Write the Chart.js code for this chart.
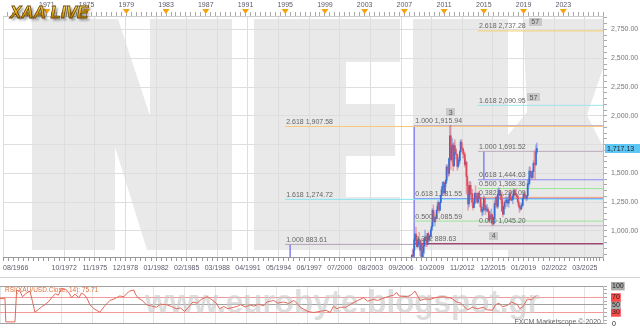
<!DOCTYPE html>
<html>
<head>
<meta charset="utf-8">
<script src="https://cdn.jsdelivr.net/npm/chart.js@4.4.1/dist/chart.umd.min.js"></script>
<style>
html, body { margin: 0; padding: 0; background: #fff; }
#wrap { width: 640px; height: 333px; overflow: hidden; }
canvas { display: block; }
</style>
</head>
<body>
<div id="wrap">
<canvas id="main" width="640" height="277"></canvas>
<canvas id="rsi" width="640" height="56"></canvas>
</div>
<script>
// ---- data ----
const firstMonth = '2007-10';
const firstOpen = 743;
const goldClose = [
  789, 783, 834,
  923, 972, 916, 864, 886, 928, 912, 833, 884, 718, 816, 869,
  927, 942, 916, 883, 978, 926, 954, 955, 1008, 1040, 1180, 1096,
  1081, 1118, 1113, 1180, 1213, 1244, 1181, 1246, 1308, 1357, 1386, 1421,
  1332, 1410, 1439, 1556, 1536, 1500, 1628, 1826, 1620, 1722, 1746, 1565,
  1740, 1710, 1668, 1664, 1562, 1604, 1614, 1690, 1772, 1719, 1712, 1675,
  1663, 1578, 1596, 1472, 1393, 1234, 1313, 1396, 1327, 1323, 1250, 1202,
  1240, 1326, 1284, 1296, 1250, 1327, 1282, 1287, 1210, 1172, 1183, 1184,
  1283, 1213, 1183, 1183, 1190, 1172, 1095, 1132, 1115, 1142, 1065, 1061,
  1118, 1238, 1233, 1292, 1215, 1321, 1351, 1309, 1316, 1273, 1173, 1146,
  1211, 1249, 1248, 1268, 1268, 1242, 1269, 1322, 1280, 1270, 1275, 1303,
  1345, 1318, 1325, 1315, 1299, 1253, 1224, 1201, 1192, 1215, 1222, 1282,
  1321, 1313, 1292, 1284, 1305, 1409, 1413, 1520, 1472, 1513, 1464, 1517,
  1589, 1585, 1577, 1686, 1717.13
];
const goldHigh = [
  795, 845, 838,
  931, 976, 1033, 945, 940, 943, 988, 917, 910, 935, 826, 880,
  929, 1007, 963, 930, 980, 992, 960, 966, 1025, 1070, 1195, 1227,
  1162, 1128, 1135, 1183, 1250, 1265, 1246, 1253, 1313, 1388, 1424, 1431,
  1424, 1411, 1448, 1575, 1577, 1553, 1632, 1913, 1915.94, 1732, 1803, 1764,
  1764, 1791, 1720, 1677, 1666, 1640, 1630, 1695, 1790, 1796, 1755, 1723,
  1695, 1682, 1616, 1604, 1487, 1424, 1347, 1433, 1424, 1361, 1361, 1267,
  1280, 1332, 1392, 1331, 1315, 1332, 1345, 1322, 1287, 1255, 1205, 1239,
  1307, 1293, 1219, 1224, 1232, 1205, 1174, 1170, 1157, 1191, 1143, 1088,
  1126, 1263, 1283, 1304, 1303, 1362, 1377, 1367, 1352, 1318, 1338, 1180,
  1220, 1264, 1262, 1296, 1273, 1296, 1270, 1331, 1357, 1306, 1299, 1307,
  1366, 1361, 1356, 1366, 1318, 1309, 1266, 1236, 1214, 1243, 1237, 1284,
  1326, 1347, 1324, 1310, 1306, 1439, 1453, 1555, 1557, 1517, 1516, 1535,
  1611, 1689, 1704, 1747, 1765
];
const goldLow = [
  725, 775, 780,
  835, 890, 913, 862, 852, 862, 911, 786, 740, 681, 705, 752,
  802, 918, 866, 865, 882, 913, 908, 932, 950, 1003, 1040, 1075,
  1075, 1045, 1087, 1114, 1165, 1195, 1157, 1177, 1243, 1308, 1332, 1360,
  1308, 1323, 1383, 1420, 1462, 1477, 1478, 1603, 1534, 1604, 1670, 1523,
  1563, 1688, 1627, 1614, 1527, 1547, 1564, 1584, 1686, 1697, 1672, 1636,
  1626, 1555, 1566, 1321, 1338, 1180, 1208, 1271, 1292, 1251, 1221, 1182,
  1202, 1238, 1277, 1268, 1242, 1240, 1281, 1281, 1206, 1160, 1131, 1142,
  1167, 1197, 1142, 1169, 1170, 1162, 1077, 1080, 1098, 1112, 1052, 1045.2,
  1061, 1107, 1208, 1207, 1199, 1199, 1310, 1301, 1302, 1241, 1171, 1123,
  1146, 1191, 1194, 1243, 1214, 1236, 1205, 1265, 1274, 1260, 1264, 1236,
  1302, 1307, 1303, 1309, 1281, 1245, 1211, 1160, 1180, 1182, 1196, 1221,
  1275, 1310, 1281, 1266, 1266, 1311, 1382, 1400, 1459, 1459, 1445, 1459,
  1517, 1548, 1451, 1567, 1670
];

// Fibonacci levels drawn on the chart
const fibLabels = ['2.618 2,737.28', '1.618 2,090.95', '2.618 1,907.58', '1.000 1,915.94',
  '1.000 1,691.52', '0.618 1,444.63', '0.500 1,368.36', '0.382 1,292.09', '1.618 1,274.72',
  '0.618 1,281.55', '0.500 1,085.59', '0.000 1,045.20', '1.000 883.61', '0.382 889.63'];
const fibPrices = [2737.28, 2090.95, 1907.58, 1915.94, 1691.52, 1444.63, 1368.36, 1292.09,
  1274.72, 1281.55, 1085.59, 1045.20, 883.61, 889.63];
const fibStarts = ['2014-06', '2014-06', '1995-01', '2008-01', '2014-06', '2014-06', '2014-06',
  '2014-06', '1995-01', '2008-01', '2008-01', '2014-06', '1995-01', '2008-01'];
const fibColors = ['#f6cf6a', '#9fe3ee', '#f7c77a', '#c4b6cc', '#bcaabc', '#8a8af2', '#9be59b',
  '#f2a27e', '#86e6ee', '#8c8cf0', '#9be59b', '#c8b8c8', '#b0a0b8', '#a8385e'];

// vertical legs of the fib drawings
const legDates = ['1995-07', '2008-01', '2015-01'];
const legFrom = [883.61, 1915.94, 1691.52];
const legTo = [774, 774, 1444.63];

// wave tags
const tagTexts = ['57', '57', '3', '4'];
const tagDates = ['2020-03', '2020-01', '2011-09', '2016-01'];
const tagPrices = [2815, 2160, 2030, 960];

const bottomLabels = ['08/1966', '10/1972', '11/1975', '12/1978', '01/1982', '02/1985', '03/1988',
  '04/1991', '05/1994', '06/1997', '07/2000', '08/2003', '09/2006', '10/2009', '11/2012',
  '12/2015', '01/2019', '02/2022', '03/2025'];
const topYears = [1971, 1975, 1979, 1983, 1987, 1991, 1995, 1999, 2003, 2007, 2011, 2015, 2019, 2023];
const priceLabels = [1000, 1250, 1500, 2000, 2250, 2500, 2750];

const rsiDates = ['1966-08', '1967-02', '1967-03', '1968-02', '1968-04', '1968-08', '1968-11', '1969-03',
  '1969-08', '1969-11', '1970-02', '1970-06', '1970-10', '1971-02', '1971-06', '1971-11', '1972-03',
  '1972-06', '1972-10', '1973-04', '1973-07', '1973-10', '1974-02', '1974-07', '1974-10', '1975-02',
  '1975-05', '1975-08', '1976-01', '1976-08', '1977-01', '1977-08', '1978-01', '1978-08', '1979-01',
  '1979-04', '1979-08', '1980-01', '1980-03', '1980-06', '1980-11', '1981-04', '1981-09', '1982-04',
  '1982-09', '1983-04', '1983-10', '1984-04', '1984-09', '1985-02', '1985-07', '1985-12', '1986-05',
  '1986-10', '1987-05', '1987-08', '1987-12', '1988-04', '1988-08', '1989-01', '1989-06', '1990-01',
  '1990-05', '1990-09', '1991-03', '1991-09', '1992-01', '1992-07', '1993-01', '1993-05', '1994-01',
  '1994-06', '1995-01', '1995-07', '1996-01', '1996-05', '1996-09', '1997-06', '1998-01', '1998-09',
  '1999-04', '1999-09', '2000-01', '2000-05', '2000-09', '2001-04', '2001-09', '2002-06', '2003-01',
  '2003-06', '2004-01', '2004-06', '2005-01', '2005-06', '2006-01', '2006-05', '2006-08', '2007-06',
  '2007-11', '2008-03', '2008-09', '2009-03', '2009-09', '2010-04', '2011-01', '2011-09', '2011-12',
  '2012-05', '2012-10', '2013-06', '2013-12', '2014-06', '2015-01', '2015-06', '2015-12', '2016-04',
  '2016-08', '2016-12', '2017-06', '2017-11', '2018-06', '2018-09', '2019-01', '2019-06', '2019-11',
  '2020-02', '2020-05'];
const rsiValues = [67, 67, 5, 5, 89, 87, 72, 80,
  87, 60, 31, 38, 45, 51, 58, 72, 80,
  76, 94, 90, 82, 69, 79, 69, 82, 76,
  66, 51, 40, 31, 45, 62, 66, 74, 72,
  80, 87, 90, 78, 69, 62, 51, 48, 44,
  52, 51, 46, 40, 42, 33, 45, 58, 55,
  65, 72, 68, 62, 55, 40, 46, 40, 44,
  46, 51, 45, 50, 47, 52, 48, 58, 62,
  55, 58, 54, 62, 55, 44, 33, 30, 33,
  36, 30, 47, 40, 44, 44, 51, 62, 69,
  60, 65, 62, 68, 72, 76, 83, 74, 72,
  78, 87, 62, 66, 65, 70, 72, 69, 66,
  58, 55, 37, 44, 40, 44, 37, 36, 51,
  55, 45, 49, 58, 51, 40, 46, 66, 64,
  70, 75.71];
const rsiLevels = [0, 30, 50, 70, 100];

// ---- helpers ----
const FONT = 'Liberation Sans, Arial, sans-serif';
function ym(s) { const [y, m] = s.split('-').map(Number); return y + (m - 1) / 12; }
function my(s) { const [m, y] = s.split('/').map(Number); return y + (m - 1) / 12; }
const X_MIN = my(bottomLabels[0]);
const X_MAX = 2027.0;
const Y_MIN = 774, Y_MAX = 2867;
const fmt = v => v.toLocaleString('en-US', { minimumFractionDigits: 2, maximumFractionDigits: 2 });

// bottom axis ticks: labelled ones plus small ones in between
const bottomTicks = [];
bottomLabels.forEach((l, i) => {
  const v = my(l);
  bottomTicks.push({ value: v, lbl: l });
  const next = i < bottomLabels.length - 1 ? my(bottomLabels[i + 1]) : X_MAX;
  const step = i === 0 ? (my(bottomLabels[1]) - v) / 12 : (next - v) / 6;
  for (let t = v + step; t < next - step / 2; t += step) bottomTicks.push({ value: t, lbl: '' });
});
bottomTicks.push({ value: X_MAX, lbl: '' });

const topTicks = [];
for (let t = 1967; t <= X_MAX; t += 0.5) topTicks.push({ value: t, lbl: topYears.includes(t) ? String(t) : '' });

const priceTicks = [];
for (let p = 800; p <= 2850; p += 50) priceTicks.push({ value: p });

// candles
const m0 = ym(firstMonth);
const candleX = goldClose.map((c, i) => m0 + i / 12);
const candleOpen = goldClose.map((c, i) => i === 0 ? firstOpen : goldClose[i - 1]);
const isUp = goldClose.map((c, i) => c >= candleOpen[i]);

// ---- plugins ----
function poly(c, pts) {
  c.beginPath();
  pts.forEach((p, i) => i ? c.lineTo(p[0], p[1]) : c.moveTo(p[0], p[1]));
  c.closePath();
  c.fill();
}

const watermark = {
  id: 'watermark',
  beforeDraw(chart) {
    const c = chart.ctx, a = chart.chartArea;
    c.save();
    c.beginPath();
    c.rect(a.left, a.top, a.right - a.left, a.bottom - a.top);
    c.clip();
    c.fillStyle = '#e9e9e9';
    poly(c, [[32, 19], [118, 19], [150, 116], [150, 19], [232, 19], [232, 250], [147, 250], [115, 147], [115, 250], [32, 250]]);
    poly(c, [[254, 19], [400, 19], [400, 62], [346, 62], [346, 104], [395, 104], [395, 156], [346, 156], [346, 197], [400, 197], [400, 250], [254, 250]]);
    poly(c, [[413, 19], [508, 19], [508, 250], [413, 250]]);
    poly(c, [[523, 19], [620, 19], [587, 115], [660, 260], [508, 260], [508, 135], [527, 112]]);
    c.restore();
  }
};

const annotations = {
  id: 'annotations',
  afterDatasetsDraw(chart) {
    const c = chart.ctx, sx = chart.scales.x, sy = chart.scales.y;
    c.save();
    c.font = '7px ' + FONT;
    c.fillStyle = '#666';
    c.textBaseline = 'bottom';
    fibLabels.forEach((l, i) => {
      c.fillText(l, sx.getPixelForValue(ym(fibStarts[i])) + 1, sy.getPixelForValue(fibPrices[i]) - 1);
    });
    c.textAlign = 'center';
    c.textBaseline = 'middle';
    tagTexts.forEach((t, i) => {
      const px = sx.getPixelForValue(ym(tagDates[i])), py = sy.getPixelForValue(tagPrices[i]);
      const w = c.measureText(t).width + 5;
      c.fillStyle = '#c9c9c9';
      c.fillRect(Math.round(px - w / 2), Math.round(py - 4), Math.round(w), 8);
      c.fillStyle = '#555';
      c.fillText(t, px, py + 0.5);
    });
    c.restore();
  },
  afterDraw(chart) {
    const c = chart.ctx, sy = chart.scales.y, st = chart.scales.xTop;
    c.save();
    // last price box
    const last = goldClose[goldClose.length - 1];
    const py = sy.getPixelForValue(last);
    c.fillStyle = '#5cc6f5';
    c.fillRect(605, Math.round(py - 4.5), 35, 9);
    c.fillStyle = '#222';
    c.font = '7px ' + FONT;
    c.textBaseline = 'middle';
    c.fillText(fmt(last), 607, py + 0.5);
    // year markers on the top axis
    c.fillStyle = '#f5a20f';
    topYears.forEach(yr => {
      const px = st.getPixelForValue(yr);
      c.beginPath();
      c.moveTo(px - 3.5, 9); c.lineTo(px + 3.5, 9); c.lineTo(px, 14); c.closePath();
      c.fill();
    });
    // logo
    c.font = 'italic bold 17px ' + FONT;
    c.textBaseline = 'alphabetic';
    c.shadowColor = 'rgba(0,0,0,0.55)';
    c.shadowBlur = 3;
    c.shadowOffsetX = 2;
    c.shadowOffsetY = 2;
    const g = c.createLinearGradient(0, 4, 0, 19);
    g.addColorStop(0, '#fff2a0');
    g.addColorStop(0.5, '#f2b418');
    g.addColorStop(1, '#b07000');
    c.fillStyle = g;
    c.fillText('XAA LIVE', 10, 18);
    c.shadowColor = 'transparent';
    c.lineWidth = 0.8;
    c.strokeStyle = '#6a4a00';
    c.strokeText('XAA LIVE', 10, 18);
    c.restore();
  }
};

// ---- main chart ----
const tickFont = { family: FONT, size: 7 };
const datasets = [
  {
    type: 'bar', label: 'wick', order: 0, grouped: false, barThickness: 1,
    data: candleX.map((x, i) => ({ x, y: [goldLow[i], goldHigh[i]] })),
    backgroundColor: isUp.map(u => u ? 'rgba(70,120,220,0.45)' : 'rgba(232,100,115,0.5)')
  },
  {
    type: 'bar', label: 'body', order: 0, grouped: false, barThickness: 1,
    data: candleX.map((x, i) => ({ x, y: [candleOpen[i], goldClose[i]] })),
    backgroundColor: isUp.map(u => u ? '#1a5fd6' : '#d8283c')
  }
];
fibPrices.forEach((p, i) => datasets.push({
  type: 'line', order: 1, borderColor: fibColors[i], borderWidth: i === 13 ? 1.5 : 1,
  pointRadius: 0, data: [{ x: ym(fibStarts[i]), y: p }, { x: X_MAX, y: p }]
}));
legDates.forEach((d, i) => datasets.push({
  type: 'line', order: 1, borderColor: '#8c8cf0', borderWidth: 1, pointRadius: 0,
  data: [{ x: ym(d), y: legFrom[i] }, { x: ym(d), y: legTo[i] }]
}));

new Chart(document.getElementById('main'), {
  type: 'line',
  data: { datasets },
  options: {
    responsive: false, animation: false, events: [],
    layout: { padding: 0 },
    plugins: { legend: { display: false }, tooltip: { enabled: false } },
    scales: {
      x: {
        type: 'linear', position: 'bottom', min: X_MIN, max: X_MAX, offset: false,
        afterBuildTicks: s => { s.ticks = bottomTicks.map(t => ({ ...t })); },
        afterFit: s => { s.height = 20; },
        grid: { offset: false, color: ctx => ctx.tick && ctx.tick.lbl ? '#dedede' : 'transparent', tickColor: '#999', tickLength: 4 },
        border: { color: '#999' },
        ticks: { autoSkip: false, maxRotation: 0, align: 'inner', padding: 3, font: tickFont, color: '#5a5a6a',
          callback: (v, i, t) => t[i].lbl }
      },
      xTop: {
        type: 'linear', position: 'top', min: X_MIN, max: X_MAX, offset: false,
        afterBuildTicks: s => { s.ticks = topTicks.map(t => ({ ...t })); },
        afterFit: s => { s.height = 16; },
        grid: { drawOnChartArea: false, tickColor: '#aaa', tickLength: 4 },
        border: { color: '#ccc' },
        ticks: { autoSkip: false, maxRotation: 0, align: 'inner', padding: 3, font: tickFont, color: '#5a5a6a',
          callback: (v, i, t) => t[i].lbl }
      },
      y: {
        type: 'linear', position: 'right', min: Y_MIN, max: Y_MAX,
        afterBuildTicks: s => { s.ticks = priceTicks.map(t => ({ ...t })); },
        afterFit: s => { s.width = 37; },
        grid: { color: ctx => ctx.tick && ctx.tick.value % 250 === 0 ? '#dedede' : 'transparent', tickColor: '#aaa', tickLength: 4 },
        border: { color: '#bbb' },
        ticks: { autoSkip: false, padding: 4, font: tickFont, color: '#777',
          callback: v => priceLabels.includes(v) ? fmt(v) : '' }
      }
    }
  },
  plugins: [watermark, annotations]
});

// ---- RSI panel ----
const rsiTicks = [];
for (let v = 0; v <= 100; v += 10) rsiTicks.push({ value: v });
const levelColor = v => (v === 30 || v === 70) ? '#f29a9a' : '#a0a0a0';

const rsiDecor = {
  id: 'rsiDecor',
  beforeDraw(chart) {
    const c = chart.ctx;
    c.save();
    c.fillStyle = '#d4d4d4';
    c.fillRect(0, 0, 640, 1);
    c.restore();
  },
  beforeDatasetsDraw(chart) {
    const c = chart.ctx, a = chart.chartArea;
    c.save();
    c.font = 'bold 33px ' + FONT;
    const txt = 'www.eurobyte.blogspot.gr';
    const w = c.measureText(txt).width;
    c.translate(145, 36);
    c.scale(395 / w, 1);
    c.fillStyle = 'rgba(200,200,200,0.6)';
    c.textBaseline = 'alphabetic';
    c.fillText(txt, 0, 0);
    c.restore();
    c.save();
    c.font = '6.5px ' + FONT;
    c.fillStyle = '#e0703c';
    c.textBaseline = 'top';
    c.fillText('RSI(XAU/USD.Close, 14): ' + rsiValues[rsiValues.length - 1].toFixed(2), 5, a.top + 1);
    c.font = '7px ' + FONT;
    c.fillStyle = '#666';
    c.textAlign = 'right';
    c.textBaseline = 'middle';
    c.fillText('FXCM Marketscope \u00a9 2020', a.right - 2, a.bottom - 2);
    c.restore();
  }
};

new Chart(document.getElementById('rsi'), {
  type: 'line',
  data: {
    datasets: [{
      data: rsiDates.map((d, i) => ({ x: ym(d), y: rsiValues[i] })),
      borderColor: '#e06a5a', borderWidth: 1, pointRadius: 0, tension: 0
    }]
  },
  options: {
    responsive: false, animation: false, events: [],
    layout: { padding: { top: 5, bottom: 4 } },
    plugins: { legend: { display: false }, tooltip: { enabled: false } },
    scales: {
      x: {
        type: 'linear', min: X_MIN, max: X_MAX, offset: false,
        afterBuildTicks: s => { s.ticks = bottomLabels.map(l => ({ value: my(l) })); },
        afterFit: s => { s.height = 0; },
        grid: { color: '#e4e4e4', drawTicks: false },
        border: { display: false },
        ticks: { display: false }
      },
      y: {
        type: 'linear', position: 'right', min: 0, max: 100,
        afterBuildTicks: s => { s.ticks = rsiTicks.map(t => ({ ...t })); },
        afterFit: s => { s.width = 37; },
        grid: { color: ctx => ctx.tick && rsiLevels.includes(ctx.tick.value) ? levelColor(ctx.tick.value) : 'transparent', tickColor: '#aaa', tickLength: 4 },
        border: { color: '#bbb' },
        ticks: {
          autoSkip: false, padding: 5, font: tickFont, color: '#222',
          showLabelBackdrop: true, backdropPadding: { top: 0, bottom: 0, left: 1, right: 1 },
          backdropColor: ctx => !rsiLevels.includes(ctx.tick.value) ? 'transparent' : (ctx.tick.value === 30 || ctx.tick.value === 70 ? '#ff4a4a' : (ctx.tick.value === 0 ? '#ffffff' : '#a9a9a9')),
          callback: v => rsiLevels.includes(v) ? String(v) : ''
        }
      }
    }
  },
  plugins: [rsiDecor]
});
</script>
</body>
</html>
